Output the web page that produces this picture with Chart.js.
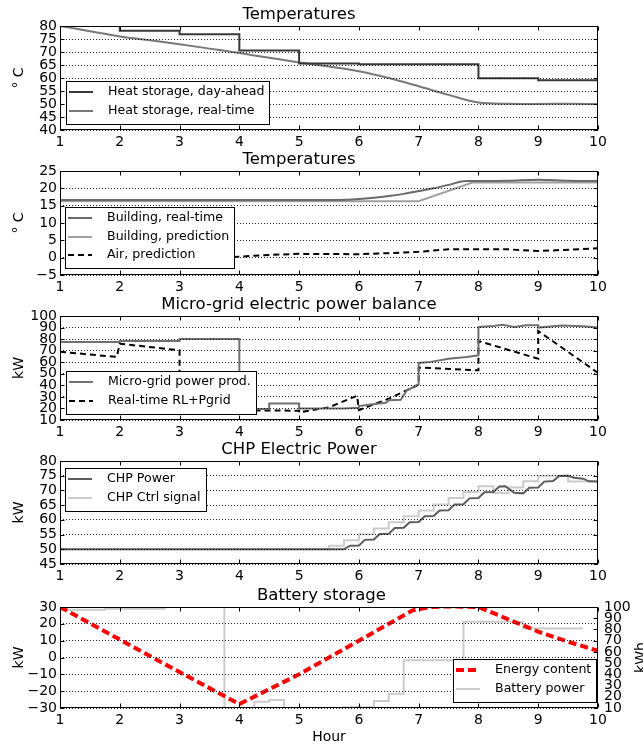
<!DOCTYPE html>
<html>
<head>
<meta charset="utf-8">
<script src="https://cdn.jsdelivr.net/npm/chart.js@4.4.1/dist/chart.umd.min.js"></script>
<style>
  body { margin: 0; background: #fff; width: 643px; height: 747px; position: relative; overflow: hidden; }
  canvas { position: absolute; left: 0; }
</style>
</head>
<body>
<canvas id="heat" style="top:0px" width="643" height="150"></canvas>
<canvas id="building" style="top:145px" width="643" height="150"></canvas>
<canvas id="grid" style="top:290px" width="643" height="150"></canvas>
<canvas id="chp" style="top:435px" width="643" height="149"></canvas>
<canvas id="battery" style="top:581px" width="643" height="166"></canvas>
<script>
// ---- data (hours on x) ----
const heatDayAheadHours = [1, 2, 3, 4, 5, 6, 8, 9, 10];
const heatDayAhead      = [80, 78.2, 76.8, 70.6, 65.6, 65.3, 59.9, 59.1, 59.1];
const heatRealTimeHours = [1, 1.5, 2, 2.5, 3, 3.5, 4, 4.5, 5, 5.5, 6, 6.5, 7, 7.5, 8, 8.5, 9, 9.5, 10];
const heatRealTime      = [80, 78, 76, 74.5, 73, 71.3, 69.6, 67.8, 66, 64.4, 62.6, 60, 56.8, 53.5, 50.6, 50.1, 50, 50.1, 50];

const bldRealTimeHours = [1, 2, 3, 4, 5, 5.5, 5.8, 6, 6.25, 6.5, 6.75, 7, 7.25, 7.5, 7.8, 8, 8.5, 9, 9.5, 10];
const bldRealTime      = [16.6, 16.6, 16.6, 16.6, 16.6, 16.6, 16.7, 16.9, 17.3, 17.8, 18.4, 19.2, 20, 21, 22.1, 22.1, 22.2, 22.5, 22.2, 22.1];
const bldPredHours     = [1, 7, 7.9, 10];
const bldPrediction    = [16.3, 16.3, 21.7, 21.7];
const airHours         = [3.9, 4, 4.5, 5, 6, 6.5, 7, 7.5, 8, 8.5, 9, 10];
const airPrediction    = [0.2, 0.3, 0.8, 1.1, 1.0, 1.3, 1.7, 2.4, 2.4, 2.4, 1.9, 2.7];

const gridProdHours = [1, 2, 2, 3, 3, 4, 4, 4.5, 4.5, 5, 5, 5.75, 6, 6, 6.2, 6.45, 6.5, 6.7, 6.75, 6.8, 7, 7, 7.2, 7.5, 7.8, 8, 8, 8.25, 8.4, 8.6, 8.8, 9, 9, 9.4, 9.75, 10];
const gridProd      = [77.6, 77.6, 78.4, 78.4, 80, 80, 19.5, 19.5, 24.3, 24.3, 20, 20, 20.5, 22, 23.5, 25, 27, 27.5, 31.5, 35.5, 41, 59.4, 60.3, 63, 64.5, 66, 90.5, 91.4, 92.5, 90.5, 92, 92, 90, 91.7, 91.1, 90];
const rlHours = [1, 1.95, 2, 3, 3, 4, 4, 5, 5, 5.5, 5.97, 6, 6.5, 7, 7, 8, 8, 9, 9, 10];
const rlPgrid = [69, 64.6, 76, 70.3, 45, 40, 18.5, 18, 16.6, 21, 31, 18.5, 28.5, 40.5, 55.4, 53, 78.4, 63, 87, 50.8];

const chpPowerHours = [1, 5.75, 5.85, 6, 6.1, 6.25, 6.35, 6.5, 6.6, 6.75, 6.85, 7, 7.1, 7.25, 7.35, 7.5, 7.6, 7.75, 7.85, 8, 8.1, 8.25, 8.35, 8.45, 8.6, 8.75, 8.85, 9, 9.1, 9.25, 9.35, 9.5, 9.6, 9.75, 9.85, 10];
const chpPower      = [50, 50, 51.2, 51.3, 53.2, 53.3, 55.2, 55.3, 57.2, 57.3, 59.2, 59.3, 61.2, 61.3, 63.2, 63.3, 65.2, 65.3, 67.3, 67.4, 69.4, 69.5, 71.3, 71.4, 69.2, 69, 70.9, 71, 73, 73.2, 74.9, 75, 74.3, 74, 73.1, 73];
const ctrlHours  = [1, 5.5, 5.75, 6, 6.25, 6.5, 6.75, 7, 7.25, 7.5, 7.75, 8, 8.25, 8.5, 8.75, 9, 9.5, 10];
const ctrlSignal = [50, 51.2, 53.1, 55.1, 57.1, 59.2, 61.2, 63.2, 65.2, 67.4, 69.5, 71.4, 69.1, 71, 73.1, 75, 73, 73];

const energyHours = [1, 2, 3, 4, 5, 6, 6.9, 7.2, 7.5, 8, 8.5, 9, 9.5, 10];
const energy      = [100, 71, 42, 13.5, 40, 70, 97, 100, 100.5, 100, 89, 78, 69, 61];
const batteryHours = [1, 1.75, 2.75, 3.75, 4.25, 4.5, 4.75, 5.75, 6.25, 6.5, 6.75, 7.75, 8.75, 9.75];
const batteryPower = [28.4, 29, 30, -30, -26.3, -25.2, -30, -29.5, -25.8, -21.5, -1.7, 21.2, 17.2, 17.2];

// ---- helpers ----
const FONT = '"DejaVu Sans", sans-serif';
const pts = (xs, ys) => xs.map((x, i) => ({ x: x, y: ys[i] }));
const minus = v => String(v).replace('-', '\u2212');

const frame = {
  id: 'frame',
  afterDraw(chart, args, opts) {
    const { ctx, chartArea: a, scales } = chart;
    const L = Math.round(a.left) + 0.5, R = Math.round(a.right) - 0.5;
    const T = Math.round(a.top) + 0.5, B = Math.round(a.bottom) - 0.5;
    ctx.save();
    ctx.strokeStyle = '#000';
    ctx.lineWidth = 1;
    ctx.beginPath();
    scales.x.ticks.forEach(t => {
      const px = Math.round(scales.x.getPixelForValue(t.value)) + 0.5;
      ctx.moveTo(px, B); ctx.lineTo(px, B - 4);
      ctx.moveTo(px, T); ctx.lineTo(px, T + 4);
    });
    const yl = scales.y, yr = scales.y2 || scales.y;
    yl.ticks.forEach(t => {
      const py = Math.round(yl.getPixelForValue(t.value)) + 0.5;
      ctx.moveTo(L, py); ctx.lineTo(L + 4, py);
    });
    yr.ticks.forEach(t => {
      const py = Math.round(yr.getPixelForValue(t.value)) + 0.5;
      ctx.moveTo(R, py); ctx.lineTo(R - 4, py);
    });
    ctx.stroke();
    ctx.strokeRect(L, T, R - L, B - T);
    if (opts.rightLabel) {
      ctx.translate(641, (a.top + a.bottom) / 2);
      ctx.rotate(-Math.PI / 2);
      ctx.font = '14px ' + FONT;
      ctx.fillStyle = '#000';
      ctx.textAlign = 'center';
      ctx.textBaseline = 'middle';
      ctx.fillText(opts.rightLabel, 0, 0);
    }
    ctx.restore();
  }
};

// matplotlib style boxed legend inside the axes
const boxLegend = {
  id: 'boxLegend',
  afterDraw(chart, args, opts) {
    if (!opts.corner) return;
    const { ctx, chartArea: a } = chart;
    const sets = chart.data.datasets;
    ctx.save();
    ctx.font = '12.6px ' + FONT;
    const tw = Math.max(...sets.map(d => ctx.measureText(d.label).width));
    const w = Math.round(42 + tw + 5), h = Math.round(24 + 18.5 * (sets.length - 1));
    const x = Math.round(opts.corner[1] === 'r' ? a.right - opts.dx - w : a.left + opts.dx);
    const y = Math.round(opts.corner[0] === 'b' ? a.bottom - opts.dy - h : a.top + opts.dy);
    ctx.fillStyle = '#fff';
    ctx.fillRect(x, y, w, h);
    ctx.strokeStyle = '#000';
    ctx.lineWidth = 1;
    ctx.strokeRect(x + 0.5, y + 0.5, w, h);
    sets.forEach((d, i) => {
      const ry = Math.round(y + 11 + 18.5 * i);
      ctx.beginPath();
      ctx.setLineDash(d.borderDash || []);
      ctx.strokeStyle = d.borderColor;
      ctx.lineWidth = d.borderWidth;
      ctx.moveTo(x + 3, ry);
      ctx.lineTo(x + 27, ry);
      ctx.stroke();
      ctx.setLineDash([]);
      ctx.fillStyle = '#000';
      ctx.textBaseline = 'middle';
      ctx.fillText(d.label, x + 42, ry);
    });
    ctx.restore();
  }
};

Chart.register(frame, boxLegend);

function yAxis(min, max, step, title, pos) {
  const right = pos === 'right';
  return {
    type: 'linear', position: pos || 'left', min: min, max: max,
    afterFit: s => { s.width = right ? 45 : 60; },
    grid: { display: !right, color: 'rgba(0,0,0,0.85)', lineWidth: 1, drawTicks: false, z: 1 },
    border: { display: false, dash: [1, 2] },
    ticks: { stepSize: step, autoSkip: false, padding: right ? 6 : 3, color: '#000', font: { family: FONT, size: 14 }, callback: minus },
    title: { display: !right && !!title, text: title, color: '#000', font: { family: FONT, size: 14 }, padding: { top: 11, bottom: 0 } }
  };
}

function xAxis(h, title) {
  return {
    type: 'linear', min: 1, max: 10,
    afterFit: s => { s.height = h; },
    grid: { display: false, drawTicks: false },
    border: { display: false },
    ticks: { stepSize: 1, padding: 4, maxRotation: 0, autoSkip: false, color: '#000', font: { family: FONT, size: 14 } },
    title: { display: !!title, text: title, color: '#000', font: { family: FONT, size: 14 }, padding: { top: 0, bottom: 1 } }
  };
}

function line(label, xs, ys, color, width, dash, extra) {
  return Object.assign({
    label: label, data: pts(xs, ys), borderColor: color, borderWidth: width,
    borderDash: dash || [], pointRadius: 0, fill: false, tension: 0
  }, extra || {});
}

function makeChart(id, title, datasets, scales, legend, padRight, extraPlugins) {
  return new Chart(document.getElementById(id), {
    type: 'line',
    data: { datasets: datasets },
    options: {
      responsive: false,
      animation: false,
      layout: { padding: { left: 0, right: padRight, top: 0, bottom: 0 } },
      scales: scales,
      plugins: Object.assign({
        legend: { display: false },
        tooltip: { enabled: false },
        title: { display: true, text: title, color: '#000', font: { family: FONT, size: 16.5, weight: 'normal' }, padding: { top: 5, bottom: 1.2 } },
        boxLegend: legend
      }, extraPlugins || {})
    }
  });
}

// stepped 'before' in Chart.js = hold the previous value, then jump (matplotlib "post")
makeChart('heat', 'Temperatures', [
  line('Heat storage, day-ahead', heatDayAheadHours, heatDayAhead, '#383838', 2, null, { stepped: 'before' }),
  line('Heat storage, real-time', heatRealTimeHours, heatRealTime, '#787878', 2, null, { cubicInterpolationMode: 'monotone' })
], { x: xAxis(20), y: yAxis(40, 80, 5, '° C') }, { corner: 'bl', dx: 6, dy: 6 }, 45);

makeChart('building', 'Temperatures', [
  line('Building, real-time', bldRealTimeHours, bldRealTime, '#6a6a6a', 2, null, { cubicInterpolationMode: 'monotone' }),
  line('Building, prediction', bldPredHours, bldPrediction, '#a0a0a0', 2),
  line('Air, prediction', airHours, airPrediction, '#000', 2, [6, 4])
], { x: xAxis(20), y: yAxis(-5, 25, 5, '° C') }, { corner: 'bl', dx: 5, dy: 7 }, 45);

makeChart('grid', 'Micro-grid electric power balance', [
  line('Micro-grid power prod.', gridProdHours, gridProd, '#707070', 2),
  line('Real-time RL+Pgrid', rlHours, rlPgrid, '#000', 2, [6, 4])
], { x: xAxis(20), y: yAxis(10, 100, 10, 'kW') }, { corner: 'bl', dx: 6, dy: 6 }, 45);

makeChart('chp', 'CHP Electric Power', [
  line('CHP Power', chpPowerHours, chpPower, '#5c5c5c', 2),
  line('CHP Ctrl signal', ctrlHours, ctrlSignal, '#cbcbcb', 2, null, { stepped: 'before' })
], { x: xAxis(20), y: yAxis(45, 80, 5, 'kW') }, { corner: 'tl', dx: 5, dy: 7 }, 45);

makeChart('battery', 'Battery storage', [
  line('Energy content', energyHours, energy, '#ff0000', 4, [8, 4], { yAxisID: 'y2', order: 0 }),
  line('Battery power', batteryHours, batteryPower, '#cbcbcb', 2, null, { yAxisID: 'y', stepped: 'before', order: 1 })
], { x: xAxis(39, 'Hour'), y: yAxis(-30, 30, 10, 'kW'), y2: yAxis(10, 100, 10, '', 'right') },
  { corner: 'br', dx: 2, dy: 6 }, 0, { frame: { rightLabel: 'kWh' } });
</script>
</body>
</html>
